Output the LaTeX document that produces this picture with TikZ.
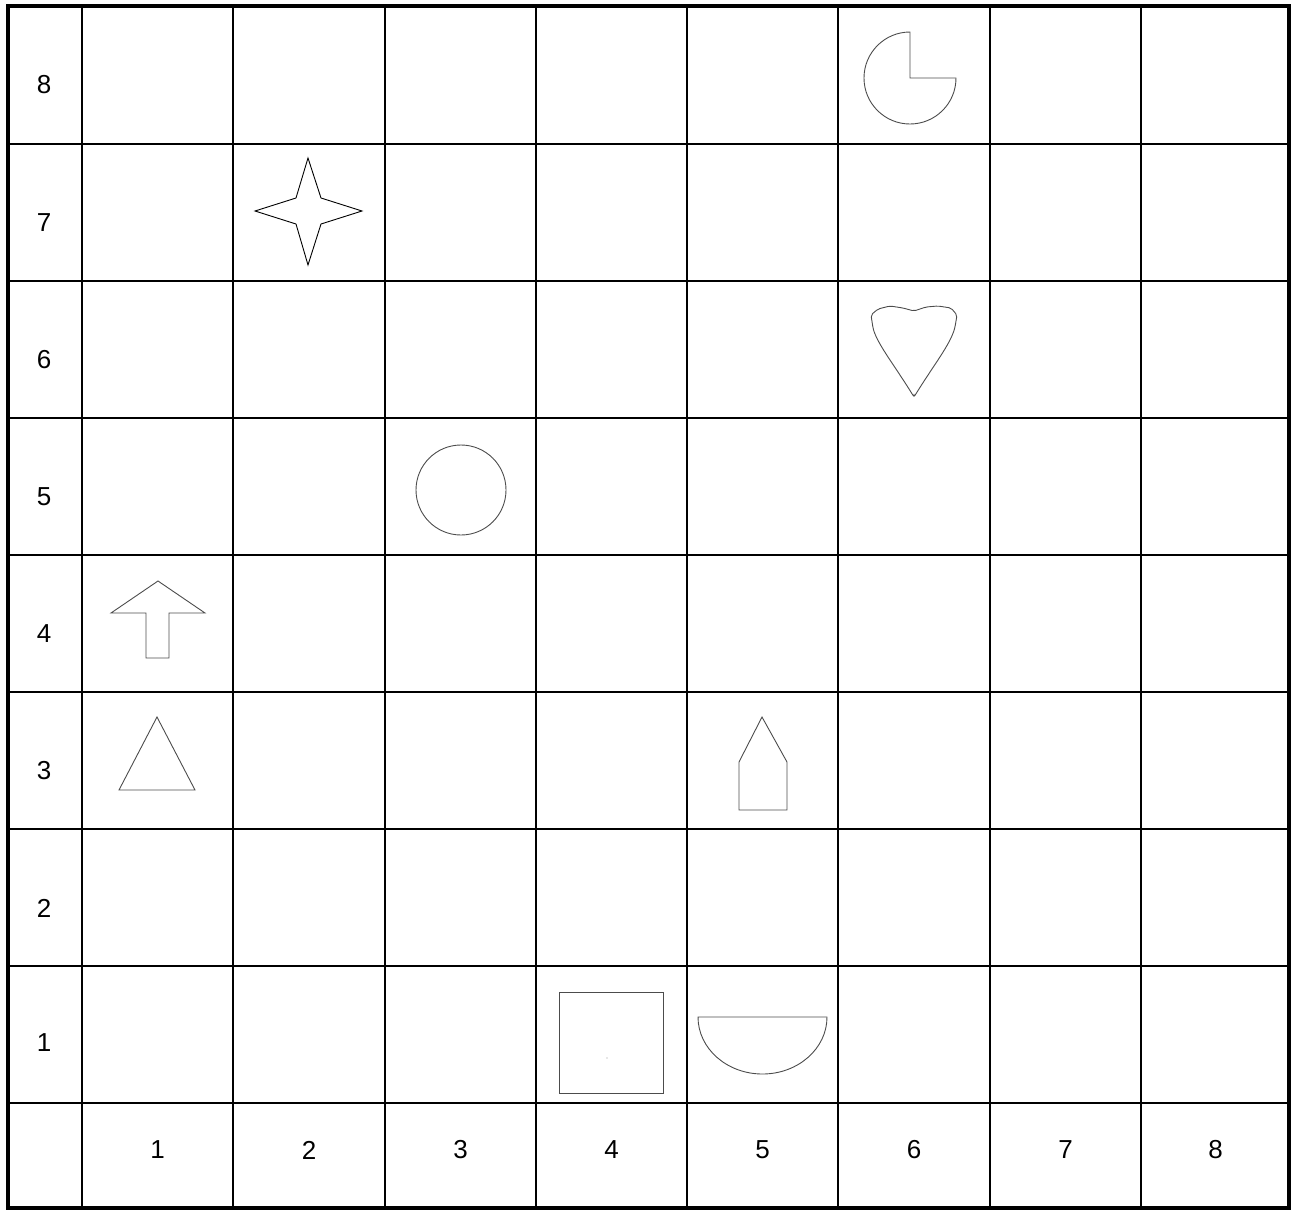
\documentclass[tikz,border=0pt]{standalone}
\usepackage{fontspec}
\setmainfont{Liberation Sans}
\usepackage{tikz}
\tikzset{gridline/.style={line width=2.4pt,black},
 frame/.style={line width=4.5pt,black},
 figure/.style={line width=0.9pt,black!70,line join=miter},
 lab/.style={inner sep=0pt,font=\fontsize{26}{29}\selectfont}}

\begin{document}
\begin{tikzpicture}[x=1pt,y=-1pt]
\useasboundingbox (0,0) rectangle (1291,1210);
% grid
\foreach \gx in {82,233,385,536,687,838,990,1141}
  \draw[gridline] (\gx,6) -- (\gx,1208);
\foreach \gy in {144,281,418,555,692,829,966,1103}
  \draw[gridline] (8,\gy) -- (1289,\gy);
\draw[frame] (8,6) rectangle (1289,1208);

% row and column numbers
\foreach \r/\ry in {1/1043,2/908,3/771,4/634,5/497,6/360,7/223,8/85}
  \node[lab] (row\r) at (44,\ry) {\r};
\foreach \c/\cx in {1/157.5,2/309,3/460.5,4/611.5,5/762.5,6/914,7/1065.5,8/1215.5}
  \node[lab] (col\c) at (\cx,1150) {\c};

% figures
\draw[figure] (910,78) -- (910,32) arc[start angle=270,end angle=0,radius=46] -- cycle;
\draw[figure,black] (308,158) -- (321,198) -- (362,211) -- (321,224) -- (308,265)
  -- (296,224) -- (255,211) -- (296,198) -- cycle;
\draw[figure,rounded corners=2pt] (914,397) .. controls (895,366) and (878,345) .. (873,328)
  -- (871,315) -- (878,309) -- (890,306) -- (903,308) -- (914,311) -- (926,307) -- (938,306)
  -- (951,308) -- (957,315) -- (955,327) .. controls (950,345) and (933,366) .. (914,397) -- cycle;
\draw[figure] (461,490) circle[radius=45];
\draw[figure] (158,581) -- (205,613) -- (169,613) -- (169,658) -- (146,658) -- (146,613) -- (111,613) -- cycle;
\draw[figure] (157,717) -- (195,790) -- (119,790) -- cycle;
\draw[figure] (762,717) -- (787,762) -- (787,810) -- (739,810) -- (739,762) -- cycle;
\draw[figure] (559,992) rectangle (663,1093);
\fill[black!40] (607,1058) circle[radius=0.6];
\draw[figure] (698,1017) -- (827,1017) arc[start angle=0,end angle=180,x radius=64.5,y radius=57] -- cycle;
\end{tikzpicture}
\end{document}
